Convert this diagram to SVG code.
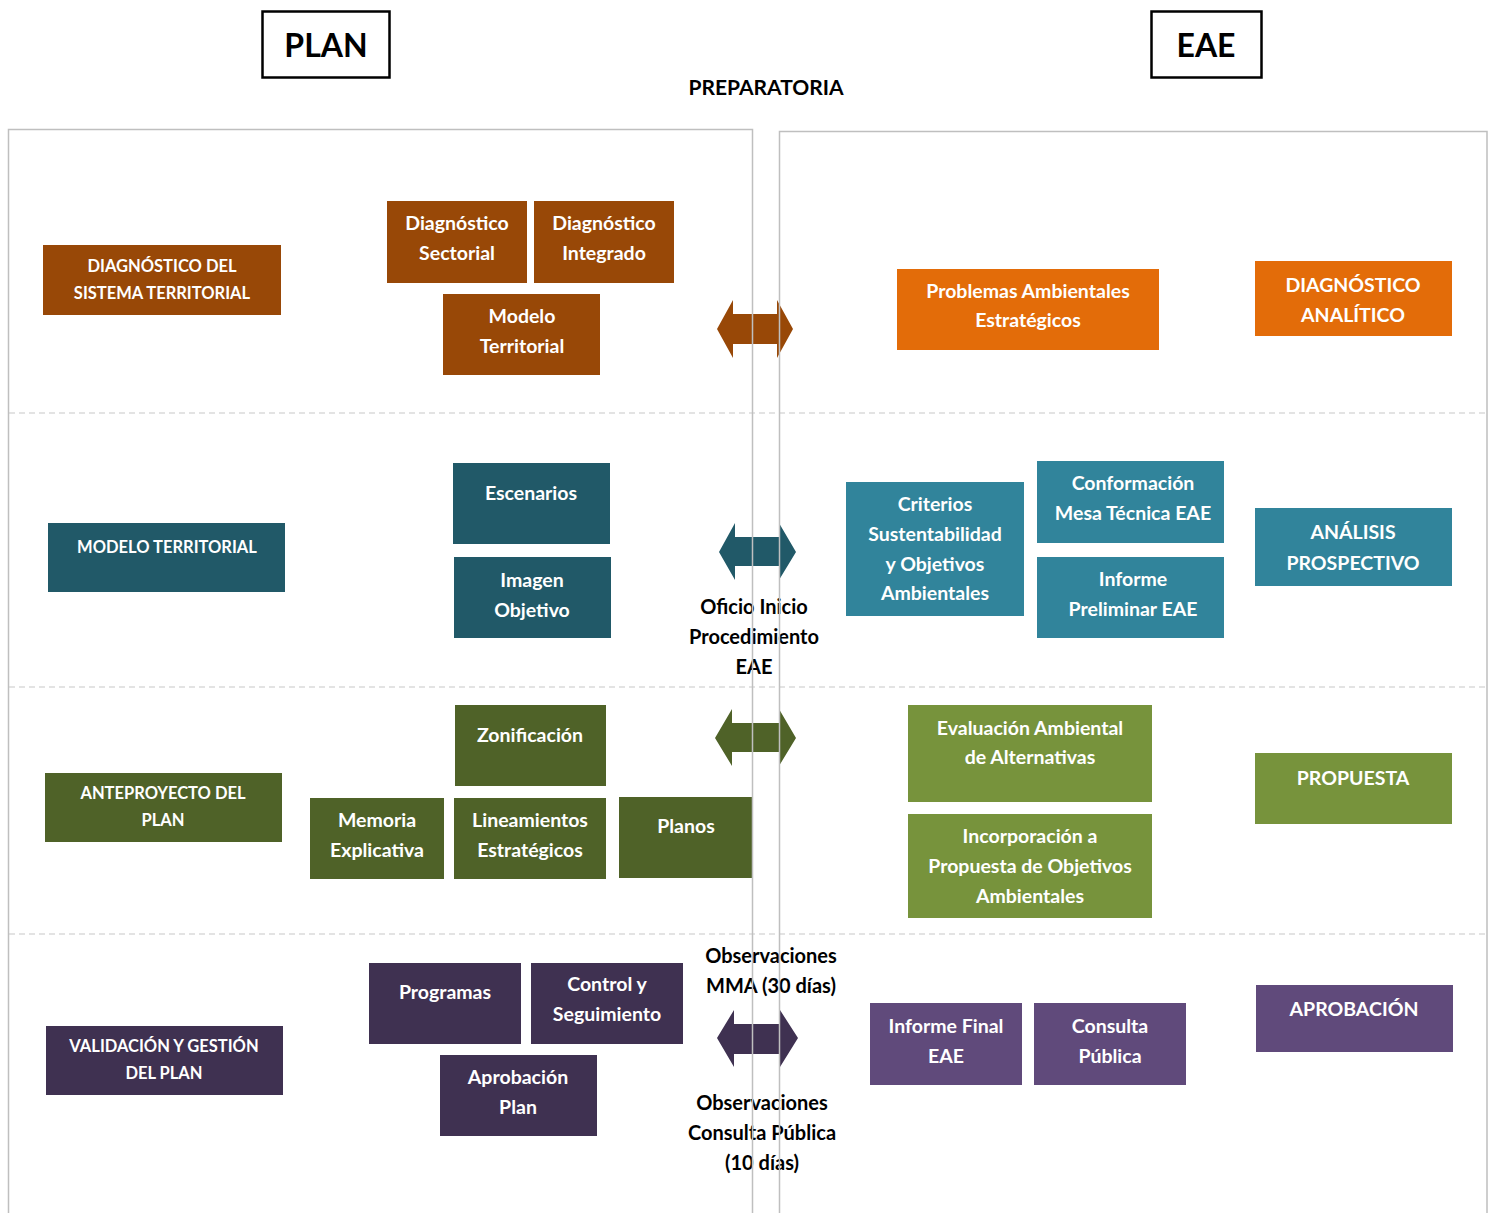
<svg xmlns="http://www.w3.org/2000/svg" width="1495" height="1213" viewBox="0 0 1495 1213">
<style>
text{font-family:Lato,"Open Sans","Liberation Sans",sans-serif;font-weight:700;text-anchor:middle}
.w{fill:#fff;font-size:19.5px}
.ws{fill:#fff;font-size:16.5px}
.k{fill:#000;font-size:20px}
.brown{fill:#984807}
.orange{fill:#E36C09}
.dteal{fill:#215968}
.lteal{fill:#31849B}
.dgreen{fill:#4F6228}
.lgreen{fill:#77933C}
.dpurple{fill:#3F3151}
.lpurple{fill:#604A7B}
.panel{fill:none;stroke:#BFBFBF;stroke-width:1.5}
.dash{stroke:#C8C8C8;stroke-width:1.2;stroke-dasharray:6 4;fill:none}
.hdr{fill:#fff;stroke:#000;stroke-width:2.5}
</style>

<g id="dividers">
<line class="dash" x1="9" y1="413" x2="1487" y2="413"/>
<line class="dash" x1="9" y1="687" x2="1487" y2="687"/>
<line class="dash" x1="9" y1="934" x2="1487" y2="934"/>
</g>

<g id="header-plan"><rect class="hdr" x="262.5" y="11.5" width="127" height="66"/><text x="326" y="57" style="font-size:32px">PLAN</text></g>
<g id="header-eae"><rect class="hdr" x="1151.5" y="11.5" width="110" height="66"/><text x="1206" y="57" style="font-size:32px">EAE</text></g>
<g id="label-preparatoria"><text x="766" y="95" style="font-size:21px">PREPARATORIA</text></g>

<!-- Row 1 -->
<g id="diag-sistema"><rect class="brown" x="43" y="245" width="238" height="70"/><text class="ws" x="162" y="272">DIAGNÓSTICO DEL</text><text class="ws" x="162" y="299">SISTEMA TERRITORIAL</text></g>
<g id="diag-sectorial"><rect class="brown" x="387" y="201" width="140" height="82"/><text class="w" x="457" y="230">Diagnóstico</text><text class="w" x="457" y="260">Sectorial</text></g>
<g id="diag-integrado"><rect class="brown" x="534" y="201" width="140" height="82"/><text class="w" x="604" y="230">Diagnóstico</text><text class="w" x="604" y="260">Integrado</text></g>
<g id="modelo-territorial-box"><rect class="brown" x="443" y="294" width="157" height="81"/><text class="w" x="522" y="323">Modelo</text><text class="w" x="522" y="353">Territorial</text></g>
<g id="problemas"><rect class="orange" x="897" y="269" width="262" height="81"/><text class="w" x="1028" y="298">Problemas Ambientales</text><text class="w" x="1028" y="327">Estratégicos</text></g>
<g id="diag-analitico"><rect class="orange" x="1255" y="261" width="197" height="75"/><text class="w" x="1353" y="292">DIAGNÓSTICO</text><text class="w" x="1353" y="322">ANALÍTICO</text></g>

<!-- Row 2 -->
<g id="modelo-territorial"><rect class="dteal" x="48" y="523" width="237" height="69"/><text class="ws" x="167" y="553">MODELO TERRITORIAL</text></g>
<g id="escenarios"><rect class="dteal" x="453" y="463" width="157" height="81"/><text class="w" x="531" y="500">Escenarios</text></g>
<g id="imagen-objetivo"><rect class="dteal" x="454" y="557" width="157" height="81"/><text class="w" x="532" y="587">Imagen</text><text class="w" x="532" y="617">Objetivo</text></g>
<g id="criterios"><rect class="lteal" x="846" y="482" width="178" height="134"/><text class="w" x="935" y="511">Criterios</text><text class="w" x="935" y="541">Sustentabilidad</text><text class="w" x="935" y="571">y Objetivos</text><text class="w" x="935" y="600">Ambientales</text></g>
<g id="mesa-tecnica"><rect class="lteal" x="1037" y="461" width="187" height="82"/><text class="w" x="1133" y="490">Conformación</text><text class="w" x="1133" y="520">Mesa Técnica EAE</text></g>
<g id="informe-preliminar"><rect class="lteal" x="1037" y="557" width="187" height="81"/><text class="w" x="1133" y="586">Informe</text><text class="w" x="1133" y="616">Preliminar EAE</text></g>
<g id="analisis-prospectivo"><rect class="lteal" x="1255" y="508" width="197" height="78"/><text class="w" x="1353" y="539">ANÁLISIS</text><text class="w" x="1353" y="570">PROSPECTIVO</text></g>
<g id="oficio-label"><text class="k" x="754" y="614">Oficio Inicio</text><text class="k" x="754" y="644">Procedimiento</text><text class="k" x="754" y="674">EAE</text></g>

<!-- Row 3 -->
<g id="anteproyecto"><rect class="dgreen" x="45" y="773" width="237" height="69"/><text class="ws" x="163" y="799">ANTEPROYECTO DEL</text><text class="ws" x="163" y="826">PLAN</text></g>
<g id="zonificacion"><rect class="dgreen" x="455" y="705" width="151" height="81"/><text class="w" x="530" y="742">Zonificación</text></g>
<g id="memoria"><rect class="dgreen" x="310" y="798" width="134" height="81"/><text class="w" x="377" y="827">Memoria</text><text class="w" x="377" y="857">Explicativa</text></g>
<g id="lineamientos"><rect class="dgreen" x="454" y="798" width="152" height="81"/><text class="w" x="530" y="827">Lineamientos</text><text class="w" x="530" y="857">Estratégicos</text></g>
<g id="planos"><rect class="dgreen" x="619" y="797" width="133" height="81"/><text class="w" x="686" y="833">Planos</text></g>
<g id="evaluacion"><rect class="lgreen" x="908" y="705" width="244" height="97"/><text class="w" x="1030" y="735">Evaluación Ambiental</text><text class="w" x="1030" y="764">de Alternativas</text></g>
<g id="incorporacion"><rect class="lgreen" x="908" y="814" width="244" height="104"/><text class="w" x="1030" y="843">Incorporación a</text><text class="w" x="1030" y="873">Propuesta de Objetivos</text><text class="w" x="1030" y="903">Ambientales</text></g>
<g id="propuesta"><rect class="lgreen" x="1255" y="753" width="197" height="71"/><text class="w" x="1353" y="785">PROPUESTA</text></g>

<!-- Row 4 -->
<g id="validacion"><rect class="dpurple" x="46" y="1026" width="237" height="69"/><text class="ws" x="164" y="1052">VALIDACIÓN Y GESTIÓN</text><text class="ws" x="164" y="1079">DEL PLAN</text></g>
<g id="programas"><rect class="dpurple" x="369" y="963" width="152" height="81"/><text class="w" x="445" y="999">Programas</text></g>
<g id="control"><rect class="dpurple" x="531" y="963" width="152" height="81"/><text class="w" x="607" y="991">Control y</text><text class="w" x="607" y="1021">Seguimiento</text></g>
<g id="aprobacion-plan"><rect class="dpurple" x="440" y="1055" width="157" height="81"/><text class="w" x="518" y="1084">Aprobación</text><text class="w" x="518" y="1114">Plan</text></g>
<g id="informe-final"><rect class="lpurple" x="870" y="1003" width="152" height="82"/><text class="w" x="946" y="1033">Informe Final</text><text class="w" x="946" y="1063">EAE</text></g>
<g id="consulta-publica"><rect class="lpurple" x="1034" y="1003" width="152" height="82"/><text class="w" x="1110" y="1033">Consulta</text><text class="w" x="1110" y="1063">Pública</text></g>
<g id="aprobacion"><rect class="lpurple" x="1256" y="985" width="197" height="67"/><text class="w" x="1354" y="1016">APROBACIÓN</text></g>
<g id="obs-mma"><text class="k" x="771" y="963">Observaciones</text><text class="k" x="771" y="993">MMA (30 días)</text></g>
<g id="obs-consulta"><text class="k" x="762" y="1110">Observaciones</text><text class="k" x="762" y="1140">Consulta Pública</text><text class="k" x="762" y="1170">(10 días)</text></g>

<g id="connectors">
<polygon fill="#984807" points="717,329 733,300 733,314 777,314 777,300 793,329 777,358 777,344 733,344 733,358"/>
<polygon fill="#215968" points="719,552 735,523 735,537 779,537 779,523 796,552 779,580 779,566 735,566 735,580"/>
<polygon fill="#4F6228" points="715,738 732,709 732,723 779,723 779,709 796,738 779,766 779,752 732,752 732,766"/>
<polygon fill="#3F3151" points="717,1038 734,1010 734,1024 780,1024 780,1010 798,1038 780,1067 780,1054 734,1054 734,1067"/>
</g>

<g id="panels">
<path class="panel" d="M8.5,1213 V129.5 H752.5 V1213"/>
<path class="panel" d="M779.5,1213 V131.5 H1487 V1213"/>
</g>
</svg>
